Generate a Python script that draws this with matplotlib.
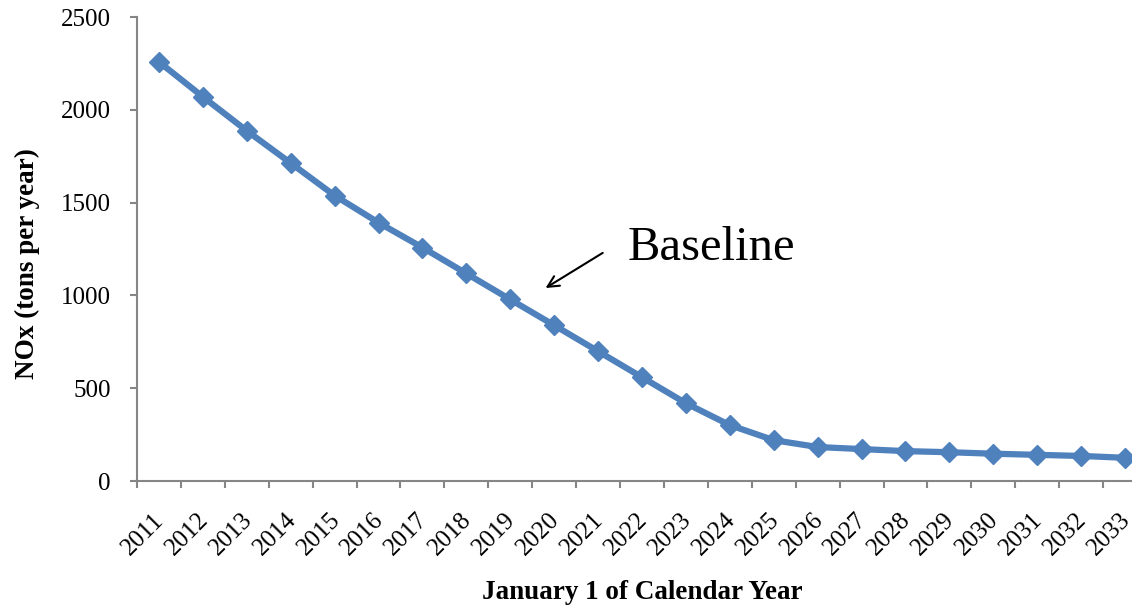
import numpy as np
import matplotlib
matplotlib.use('Agg')
import matplotlib.pyplot as plt

years = [str(y) for y in range(2011, 2034)]
nox = [2258, 2070, 1887, 1713, 1538, 1392, 1258, 1118, 978, 839, 699, 559,
       419, 301, 220, 183, 172, 161, 155, 147, 141, 135, 125]

plt.rcParams['font.family'] = ['Liberation Serif', 'DejaVu Serif']

blue = '#4F81BD'
grey = '#868686'

fig = plt.figure(figsize=(11.32, 6.11), dpi=100)
ax = fig.add_axes([137 / 1132, 1 - 481 / 611, 1010 / 1132, 464 / 611])

x = np.arange(len(years))
ax.plot(x, nox, color=blue, lw=4.5, marker='D', markersize=10.5,
        markeredgecolor=blue, markerfacecolor=blue, zorder=3, clip_on=False)

ax.set_xlim(-0.5, len(years) - 0.5)
ax.set_ylim(0, 2500)
ax.set_yticks(np.arange(0, 2501, 500))

# tick marks between categories; rotated labels (invisible minor ticks)
# nudged right so their upper end sits just past the category centre
ax.set_xticks(np.arange(-0.5, len(years)))
ax.set_xticklabels([])
ax.set_xticks(x + 0.22, minor=True)
ax.set_xticklabels(years, minor=True, rotation=45, ha='right',
                   fontsize=18)
ax.tick_params(axis='x', which='minor', length=0, pad=20)
ax.tick_params(axis='x', which='major', direction='out', length=5,
               width=1.5, color=grey)
ax.tick_params(axis='y', direction='out', length=5, width=1.5, color=grey,
               labelsize=18, pad=14)

for s in ['top', 'right']:
    ax.spines[s].set_visible(False)
for s in ['left', 'bottom']:
    ax.spines[s].set_color(grey)
    ax.spines[s].set_linewidth(1.5)

ax.set_ylabel('NOx (tons per year)', fontsize=19.5, fontweight='bold',
              va='center')
ax.yaxis.set_label_coords(-0.108, 0.468)
ax.set_xlabel('January 1 of Calendar Year', fontsize=19.5, fontweight='bold',
              va='center')
ax.xaxis.set_label_coords(0.5, -0.241)

ax.annotate('', xy=(8.75, 1032), xytext=(10.16, 1237),
            arrowprops=dict(arrowstyle='->', color='black', lw=1.5,
                            mutation_scale=20))
ax.text(10.66, 1258, 'Baseline', fontsize=35, va='center', ha='left')

fig.savefig('out.png', dpi=100)
